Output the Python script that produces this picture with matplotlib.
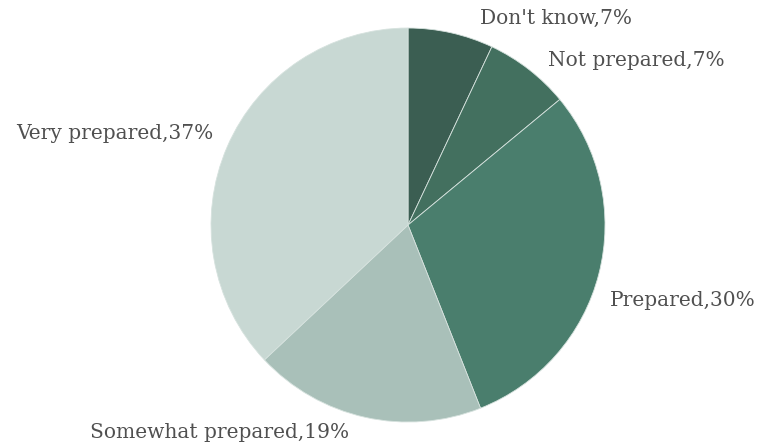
import matplotlib.pyplot as plt
from matplotlib.transforms import offset_copy

labels = ["Don't know", "Not prepared", "Prepared", "Somewhat prepared", "Very prepared"]
shares = [7, 7, 30, 19, 37]
colors = ["#3b5e52", "#43705f", "#4a7e6d", "#a9c0b9", "#c8d8d3"]
# small nudges (in pixels) so the labels clear the rim
nudges = [(25, -5), (7, -7), (-8, -22), (-12, 4), (4, 5)]

fig = plt.figure(figsize=(7.64, 4.47), dpi=100)
ax = fig.add_axes([0.2762, 0.0559, 0.5157, 0.8814])

texts = [f"{l},{v}%" for l, v in zip(labels, shares)]
wedges, lbls = ax.pie(shares, labels=texts, colors=colors, startangle=90,
                      counterclock=False, labeldistance=1.1,
                      wedgeprops=dict(edgecolor="#d6e2de", linewidth=0.6),
                      textprops=dict(family="DejaVu Serif", fontsize=14.5, color="#505050"))
for t, (dx, dy) in zip(lbls, nudges):
    t.set_va("center")
    t.set_transform(offset_copy(ax.transData, fig=fig, x=dx, y=dy, units="dots"))

ax.set_xlim(-1, 1)
ax.set_ylim(-1, 1)
ax.set_aspect("equal")

fig.savefig("out.png", dpi=100)
